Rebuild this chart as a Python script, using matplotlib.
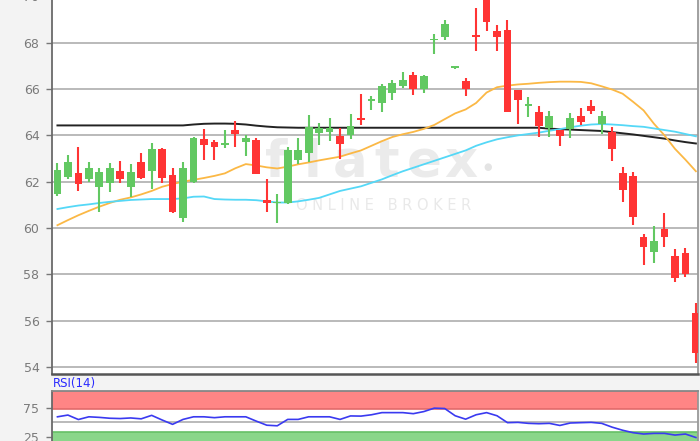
import numpy as np
import matplotlib
matplotlib.use('Agg')
import matplotlib.pyplot as plt

# daily OHLC
opens = [61.45, 62.22, 62.38, 62.10, 61.76, 61.93, 62.46, 61.76, 62.84, 62.46,
         63.40, 62.29, 60.43, 62.00, 63.84, 63.70, 63.60, 64.23, 63.70, 63.81,
         61.23, 61.06, 61.06, 62.92, 63.25, 64.10, 64.14, 63.96, 64.00, 64.76,
         65.50, 65.39, 65.82, 66.15, 66.62, 66.00, 68.10, 68.27, 66.92, 66.37,
         68.33, 70.30, 68.49, 68.55, 65.97, 65.28, 64.99, 64.30, 64.23, 64.27,
         64.82, 65.28, 64.51, 64.13, 62.37, 62.25, 59.59, 58.98, 59.95, 58.80,
         58.90, 56.31]
highs = [62.80, 63.16, 63.50, 62.84, 62.57, 62.79, 62.90, 62.76, 63.24, 63.69,
         63.46, 62.61, 62.84, 63.92, 64.28, 63.80, 64.23, 64.63, 64.00, 63.89,
         62.10, 61.45, 63.50, 63.89, 64.86, 64.53, 64.76, 64.32, 64.93, 65.79,
         65.72, 66.22, 66.39, 66.75, 66.75, 66.60, 68.37, 68.99, 67.00, 66.47,
         69.49, 70.60, 68.78, 69.00, 65.97, 65.67, 65.28, 65.06, 64.23, 64.95,
         65.20, 65.52, 65.06, 64.37, 62.64, 62.40, 59.74, 60.10, 60.64, 59.09,
         59.13, 56.78]
lows = [61.38, 62.12, 61.58, 62.00, 60.71, 61.54, 61.93, 61.33, 62.13, 61.69,
        61.93, 60.64, 60.26, 61.93, 62.92, 62.92, 63.45, 63.48, 63.12, 62.32,
        60.67, 60.22, 61.03, 62.75, 62.85, 63.60, 63.76, 63.00, 63.86, 64.47,
        65.10, 65.03, 65.53, 66.05, 65.75, 65.82, 67.51, 68.11, 66.85, 65.69,
        67.66, 68.52, 67.65, 64.99, 64.49, 64.80, 63.91, 63.91, 63.52, 63.88,
        64.46, 64.92, 64.06, 62.90, 61.14, 60.14, 58.41, 58.47, 59.16, 57.65,
        57.89, 54.15]
closes = [62.50, 62.87, 61.88, 62.60, 62.40, 62.57, 62.10, 62.40, 62.17, 63.40,
          62.14, 60.71, 62.61, 63.90, 63.60, 63.48, 63.67, 64.08, 63.90, 62.35,
          61.06, 61.10, 63.35, 63.35, 64.36, 64.32, 64.32, 63.61, 64.39, 64.67,
          65.55, 66.15, 66.25, 66.41, 66.00, 66.58, 68.14, 68.83, 66.96, 66.00,
          68.26, 68.88, 68.23, 65.00, 65.54, 65.33, 64.41, 64.85, 63.98, 64.77,
          64.56, 65.06, 64.85, 63.41, 61.65, 60.48, 59.20, 59.45, 59.59, 57.82,
          58.01, 54.62]

# moving averages read at each candle
ma_long = [64.43, 64.43, 64.43, 64.43, 64.43, 64.43, 64.43, 64.43, 64.43, 64.43,
           64.43, 64.43, 64.43, 64.47, 64.50, 64.51, 64.51, 64.50, 64.47, 64.42,
           64.38, 64.35, 64.34, 64.33, 64.33, 64.33, 64.33, 64.33, 64.33, 64.33,
           64.33, 64.33, 64.33, 64.33, 64.33, 64.33, 64.33, 64.33, 64.33, 64.33,
           64.33, 64.33, 64.33, 64.33, 64.33, 64.33, 64.33, 64.29, 64.27, 64.25,
           64.23, 64.21, 64.19, 64.14, 64.09, 64.04, 63.98, 63.92, 63.86, 63.78,
           63.71, 63.65]
ma_fast = [60.12, 60.34, 60.55, 60.74, 60.92, 61.08, 61.22, 61.32, 61.45, 61.60,
           61.78, 61.90, 62.00, 62.08, 62.16, 62.25, 62.36, 62.58, 62.76, 62.70,
           62.62, 62.57, 62.65, 62.75, 62.83, 62.92, 63.00, 63.08, 63.22, 63.35,
           63.55, 63.75, 63.93, 64.05, 64.15, 64.28, 64.45, 64.70, 64.95, 65.12,
           65.40, 65.85, 66.08, 66.15, 66.20, 66.23, 66.27, 66.30, 66.32, 66.32,
           66.31, 66.25, 66.12, 65.98, 65.80, 65.45, 65.08, 64.50, 64.00, 63.42,
           62.95, 62.45]
ma_mid = [60.82, 60.90, 60.97, 61.02, 61.08, 61.13, 61.17, 61.21, 61.23, 61.25,
          61.25, 61.25, 61.28, 61.35, 61.36, 61.25, 61.23, 61.22, 61.22, 61.20,
          61.15, 61.10, 61.10, 61.15, 61.22, 61.30, 61.45, 61.60, 61.70, 61.80,
          61.95, 62.10, 62.28, 62.45, 62.60, 62.75, 62.90, 63.05, 63.20, 63.35,
          63.55, 63.70, 63.83, 63.92, 64.00, 64.06, 64.12, 64.20, 64.27, 64.35,
          64.42, 64.47, 64.49, 64.47, 64.44, 64.40, 64.37, 64.30, 64.23, 64.16,
          64.06, 63.96]

rsi = [59.5, 62.5, 54.8, 59.5, 58.5, 57.0, 56.5, 57.5, 56.0, 62.0,
       54.0, 46.5, 55.0, 59.5, 59.5, 58.0, 59.5, 59.5, 59.5, 52.0,
       45.0, 44.0, 55.0, 55.0, 59.5, 59.5, 59.5, 55.0, 61.0, 60.7,
       63.0, 66.7, 66.7, 66.7, 64.9, 68.5, 74.4, 73.8, 61.3, 55.4,
       63.0, 66.7, 61.3, 49.4, 49.9, 48.2, 47.6, 48.2, 44.6, 48.8,
       49.4, 49.9, 48.2, 41.6, 36.3, 32.1, 29.8, 30.9, 30.9, 28.0,
       29.8, 23.8]

price_ticks = [54, 56, 58, 60, 62, 64, 66, 68, 70]
rsi_ticks = [25, 75]

W, H = 700.0, 441.0
GREEN = '#62c862'
RED = '#ff3434'
TICK_COL = '#7a7a7a'

x = np.arange(len(opens))
o = np.array(opens); c = np.array(closes)
up = c >= o
col = np.where(up, GREEN, RED)
body_lo = np.minimum(o, c)
body_h = np.maximum(np.abs(c - o), 0.07)

fig = plt.figure(figsize=(W/100, H/100), dpi=100, facecolor='#f3f3f3')

# main price panel (top edge runs past the figure, as in the cropped original)
ax = fig.add_axes([52/W, (H-374.3)/H, 646.3/W, 389.4/H])
ax.set_facecolor('white')
ax.set_xlim(-0.52, 61.23)
ax.set_ylim(53.68, 70.5)
ax.set_yticks(price_ticks)
ax.set_xticks([])
ax.grid(axis='y', color='#b4b4b4', linewidth=1.3, zorder=0)
ax.set_axisbelow(True)
ax.tick_params(axis='y', length=4, width=1, color='#777777', pad=5,
               labelcolor=TICK_COL, labelsize=9)
ax.spines['top'].set_visible(False)
ax.spines['left'].set_color('#6a6a6a'); ax.spines['left'].set_linewidth(1.3)
ax.spines['bottom'].set_color('#555555'); ax.spines['bottom'].set_linewidth(1.8)
ax.spines['right'].set_color('#999999'); ax.spines['right'].set_linewidth(1.3)

# watermark
for ch, px in zip('flatex', [276, 313, 350, 387, 424, 461]):
    ax.text(px/W, 1-177/H, ch, transform=fig.transFigure, fontsize=37,
            fontweight='bold', color='#ebebeb', ha='center', va='baseline', zorder=1)
ax.text(488/W, 1-167/H, '\u25cf', transform=fig.transFigure, fontsize=7,
        color='#e4e4e4', ha='center', va='center', zorder=1)
ax.text(384/W, 1-206/H, 'O N L I N E   B R O K E R', transform=fig.transFigure,
        fontsize=10.5, color='#e9e9e9', ha='center', va='center', zorder=1)

ax.plot(x, ma_long, color='#222222', linewidth=1.4, zorder=2)
ax.plot(x, ma_fast, color='#fbb845', linewidth=1.3, zorder=2)
ax.plot(x, ma_mid, color='#55d8f7', linewidth=1.3, zorder=2)

ax.vlines(x, lows, highs, colors=col, linewidth=1.5, zorder=3)
ax.bar(x, body_h, bottom=body_lo, width=0.74, color=col, zorder=4)

# RSI panel (bottom edge cut off by the figure)
ax2 = fig.add_axes([52/W, (H-451.3)/H, 646.3/W, 60.3/H])
ax2.set_facecolor('white')
ax2.set_xlim(-0.52, 61.23)
ax2.set_ylim(0, 104)
ax2.axhspan(72.5, 104, facecolor='#ff8585', edgecolor='#e26a6a', linewidth=1.2, zorder=1)
ax2.axhspan(0, 34, facecolor='#8ad68a', edgecolor='#66c066', linewidth=1.2, zorder=1)
ax2.axhline(50, color='#b4b4b4', linewidth=1.3, zorder=1)
ax2.plot(x, rsi, color='#3a3af0', linewidth=1.2, zorder=3)
ax2.set_yticks(rsi_ticks)
ax2.set_xticks([])
ax2.tick_params(axis='y', length=4, width=1, color='#777777', pad=5,
                labelcolor=TICK_COL, labelsize=9)
ax2.spines['left'].set_color('#6a6a6a'); ax2.spines['left'].set_linewidth(1.3)
ax2.spines['top'].set_color('#888888'); ax2.spines['top'].set_linewidth(1.3)
ax2.spines['right'].set_color('#999999'); ax2.spines['right'].set_linewidth(1.3)
ax2.spines['bottom'].set_visible(False)

fig.text(53/W, 1-384/H, 'RSI(14)', color='#2a2aff', fontsize=8.5, va='center', ha='left')

fig.savefig('out.png', dpi=100, facecolor=fig.get_facecolor())
